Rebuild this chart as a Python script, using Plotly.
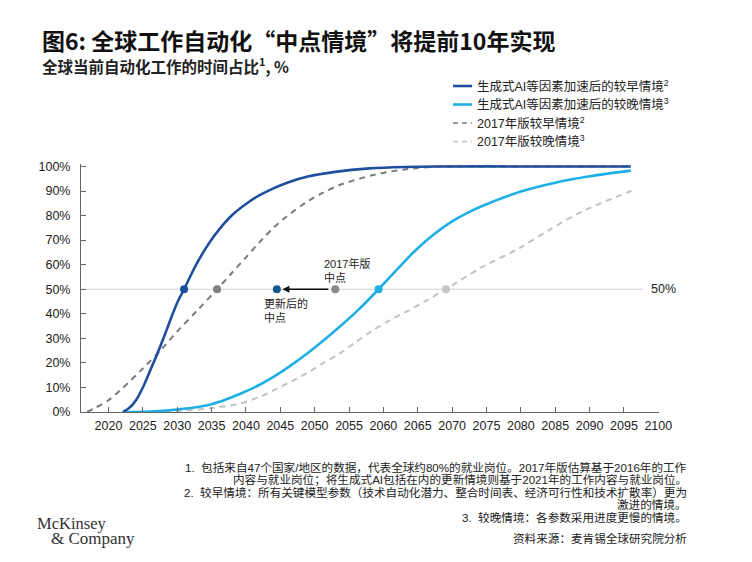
import plotly.graph_objects as go

# ---------------- data ----------------
years_early_ai = [2022.1, 2023, 2024, 2025, 2026, 2027, 2028, 2029, 2030, 2031, 2032, 2033, 2034,
                  2035, 2036, 2038, 2040, 2042, 2044, 2046, 2049, 2053, 2058, 2063, 2068, 2080, 2096]
vals_early_ai = [0, 1.6, 4.8, 10, 16.5, 23, 30, 37.5, 44.5, 50, 55.8, 61.2, 66,
                 70.3, 74, 80.2, 84.7, 88.3, 91.1, 93.4, 95.9, 97.8, 99.2, 99.8, 100, 100, 100]

years_late_ai = [2022.2, 2026, 2030, 2033, 2035, 2037, 2039, 2042, 2044, 2046.5, 2049, 2051.5, 2054,
                 2056.5, 2059.3, 2062, 2064.8, 2067.5, 2070, 2072.5, 2075, 2080, 2085, 2090, 2096]
vals_late_ai = [0, 0.2, 1, 2, 3.2, 5, 7.2, 11.1, 14.3, 18.9, 24.0, 29.6, 35.6,
                42.0, 50, 58.1, 66.2, 72.7, 77.6, 81.5, 84.6, 89.8, 93.4, 96.0, 98.3]

years_early_2017 = [2016.9, 2018, 2020, 2022, 2025, 2027.7, 2030, 2033, 2035.8, 2038, 2040, 2042,
                    2044, 2046, 2048.8, 2051, 2053.6, 2058.5, 2063.3, 2068, 2072, 2096]
vals_early_2017 = [0, 1.6, 4.8, 9.6, 17.7, 25.5, 32.8, 41.6, 50, 56.8, 63, 69.2,
                   75, 79.8, 85.4, 89, 92.4, 96.5, 98.9, 99.9, 100, 100]

years_late_2017 = [2025, 2030, 2035, 2039.1, 2042, 2044, 2046.5, 2048.8, 2051, 2053.6, 2056, 2058.5,
                   2061, 2063.3, 2066, 2069.1, 2074.4, 2079.5, 2084.1, 2088.9, 2096.1]
vals_late_2017 = [0, 0.4, 1.6, 3.4, 6.2, 8.8, 12.3, 15.7, 19.5, 23.8, 28.5, 33.3,
                  37.5, 40.8, 45, 50, 59.1, 66.3, 74.1, 81.6, 90.1]

series_names = ["生成式AI等因素加速后的较早情境<sup>2</sup>",
                "生成式AI等因素加速后的较晚情境<sup>3</sup>",
                "2017年版较早情境<sup>2</sup>",
                "2017年版较晚情境<sup>3</sup>"]

mid_years = [2031.0, 2035.8, 2044.5, 2053.0, 2059.3, 2069.1]
mid_values = [50, 50, 50, 50, 50, 50]
updated_mid_year = 2044.5
old_mid_year = 2053.0

x_ticks = list(range(2020, 2101, 5))
y_ticks = list(range(0, 101, 10))
y_ticklabels = [f"{v}%" for v in y_ticks]

title = "图6: 全球工作自动化“中点情境”将提前10年实现"
subtitle = "全球当前自动化工作的时间占比<sup>1</sup>, %"
footnotes = [
    "1.  包括来自47个国家/地区的数据，代表全球约80%的就业岗位。2017年版估算基于2016年的工作",
    "内容与就业岗位；将生成式AI包括在内的更新情境则基于2021年的工作内容与就业岗位。",
    "2.  较早情境：所有关键模型参数（技术自动化潜力、整合时间表、经济可行性和技术扩散率）更为",
    "激进的情境。",
    "3.  较晚情境：各参数采用进度更慢的情境。",
    "资料来源：麦肯锡全球研究院分析",
]

# ---------------- style ----------------
OFF = 8  # page body margin offset
W, H = 736, 546
ML, MT = 81 - OFF, 164 - OFF
PLOT_R, PLOT_B = 659 - OFF, 412 - OFF
MR, MB = W - PLOT_R, H - PLOT_B
PW, PH = PLOT_R - ML, PLOT_B - MT

DARK_BLUE = "#1f4e9f"
LIGHT_BLUE = "#1eafe6"
DARK_GRAY = "#7b7b7b"
LIGHT_GRAY = "#c2c2c2"
MID_COLORS = [DARK_BLUE, "#808080", "#14598a", "#8a8a8a", LIGHT_BLUE, "#c4c4c4"]
CJK = "Noto Sans CJK SC"
LAT = "Liberation Sans, Noto Sans CJK SC"


def px(x):
    """reference-pixel x -> paper"""
    return (x - OFF - ML) / PW


def py(y):
    """reference-pixel y -> paper"""
    return (PLOT_B - (y - OFF)) / PH


fig = go.Figure()

line_specs = [
    (years_early_ai, vals_early_ai, DARK_BLUE, "solid", 2.6),
    (years_late_ai, vals_late_ai, LIGHT_BLUE, "solid", 2.6),
    (years_early_2017, vals_early_2017, DARK_GRAY, "6px,5px", 2.0),
    (years_late_2017, vals_late_2017, LIGHT_GRAY, "6px,5px", 2.0),
]
for idx in [3, 2, 1, 0]:
    xs, ys, col, dash, w = line_specs[idx]
    fig.add_trace(go.Scatter(
        x=xs, y=ys, mode="lines", name=series_names[idx],
        line=dict(color=col, width=w, dash=dash, shape="spline", smoothing=0.9),
        showlegend=False, hoverinfo="skip",
    ))

fig.add_trace(go.Scatter(
    x=mid_years, y=mid_values, mode="markers",
    marker=dict(color=MID_COLORS, size=8, line=dict(width=0)),
    showlegend=False, hoverinfo="skip", cliponaxis=False,
))

shapes = [dict(type="line", xref="x", yref="y", x0=2016, x1=2097.8, y0=50, y1=50,
               line=dict(color="#d0d0d0", width=1), layer="below")]

annotations = []
annotations.append(dict(x=updated_mid_year + 0.8, y=50, ax=old_mid_year, ay=50,
                        xref="x", yref="y", axref="x", ayref="y", text=" ",
                        showarrow=True, arrowhead=2, arrowsize=1, arrowwidth=1.4,
                        arrowcolor="#111111", startstandoff=4, standoff=0))
annotations.append(dict(x=2051.0, y=57.8, xref="x", yref="y", xanchor="left", yanchor="middle",
                        text="2017年版<br>中点", showarrow=False, align="left",
                        font=dict(family=LAT, size=11, color="#222")))
annotations.append(dict(x=2042.4, y=41.5, xref="x", yref="y", xanchor="left", yanchor="middle",
                        text="更新后的<br>中点", showarrow=False, align="left",
                        font=dict(family=LAT, size=11, color="#222")))
annotations.append(dict(x=2098.6, y=50, xref="x", yref="y", xanchor="left", yanchor="middle",
                        text="50%", showarrow=False,
                        font=dict(family=LAT, size=12.5, color="#222")))

annotations.append(dict(x=px(40), y=py(40), xref="paper", yref="paper", xanchor="left",
                        yanchor="middle", text="<b>" + title + "</b>", showarrow=False,
                        font=dict(family=CJK, size=23, color="#111")))
annotations.append(dict(x=px(40), y=py(65), xref="paper", yref="paper", xanchor="left",
                        yanchor="middle", text="<b>" + subtitle + "</b>", showarrow=False,
                        font=dict(family=CJK, size=15.5, color="#222")))

legend_rows = [86, 104.5, 123, 141.5]
legend_cols = [DARK_BLUE, LIGHT_BLUE, DARK_GRAY, LIGHT_GRAY]
legend_dash = ["solid", "solid", "5px,4px", "5px,4px"]
legend_w = [2.6, 2.6, 1.6, 1.6]
for i, yy in enumerate(legend_rows):
    shapes.append(dict(type="line", xref="paper", yref="paper", x0=px(453), x1=px(472),
                       y0=py(yy), y1=py(yy),
                       line=dict(color=legend_cols[i], width=legend_w[i], dash=legend_dash[i])))
    annotations.append(dict(x=px(475), y=py(yy), xref="paper", yref="paper", xanchor="left",
                            yanchor="middle", text=series_names[i], showarrow=False,
                            font=dict(family=LAT, size=12.5, color="#222")))

foot_y = [467, 479.5, 492, 504, 517, 538]
for t, yy in zip(footnotes, foot_y):
    annotations.append(dict(x=px(689), y=py(yy), xref="paper", yref="paper", xanchor="right",
                            yanchor="middle", text=t, showarrow=False,
                            font=dict(family=LAT, size=11.6, color="#222")))

annotations.append(dict(x=px(35), y=py(523), xref="paper", yref="paper", xanchor="left",
                        yanchor="middle", text="McKinsey", showarrow=False,
                        font=dict(family="Liberation Serif", size=16.5, color="#333")))
annotations.append(dict(x=px(49), y=py(538), xref="paper", yref="paper", xanchor="left",
                        yanchor="middle", text="&amp; Company", showarrow=False,
                        font=dict(family="Liberation Serif", size=17, color="#333")))

fig.update_layout(
    width=W, height=H,
    margin=dict(l=ML, r=MR, t=MT, b=MB, pad=0),
    paper_bgcolor="white", plot_bgcolor="white",
    font=dict(family=LAT, size=12.5, color="#222"),
    shapes=shapes, annotations=annotations, showlegend=False,
    xaxis=dict(range=[2016, 2100.1], tickvals=x_ticks, ticks="inside", ticklen=5,
               tickcolor="#666", tickwidth=1, showline=True, linecolor="#666", linewidth=1,
               showgrid=False, zeroline=False, ticklabelstandoff=2,
               tickfont=dict(family=LAT, size=12.5, color="#222")),
    yaxis=dict(range=[0, 101], tickvals=y_ticks, ticktext=y_ticklabels, ticks="inside",
               ticklen=5, tickcolor="#666", tickwidth=1, showline=True, linecolor="#666",
               linewidth=1, showgrid=False, zeroline=False, ticklabelstandoff=7,
               tickfont=dict(family=LAT, size=12.5, color="#222")),
)

fig.write_html("out.html")
